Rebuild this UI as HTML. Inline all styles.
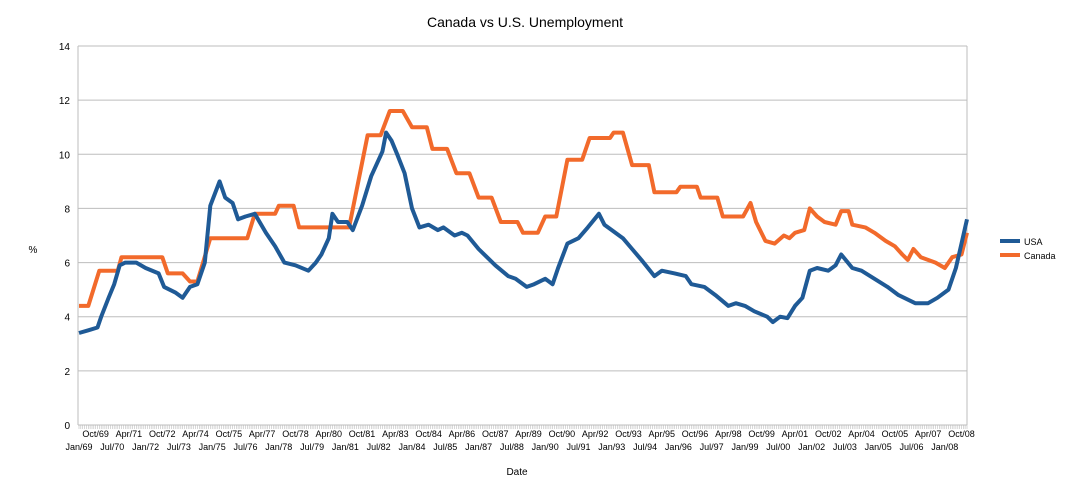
<!DOCTYPE html>
<html><head><meta charset="utf-8"><style>
body{margin:0;background:#fff;}
svg{display:block;font-family:"Liberation Sans",sans-serif;}
</style></head><body>
<svg id="chart" width="1071" height="501" viewBox="0 0 1071 501">
<text x="525" y="27" font-size="14" text-anchor="middle" fill="#000">Canada vs U.S. Unemployment</text>
<text x="33" y="253" font-size="10" text-anchor="middle" fill="#000">%</text>
<text x="517" y="475" font-size="10" text-anchor="middle" fill="#000">Date</text>
<g id="grid"></g>
<g id="yticks"></g>
<g id="xticks"></g>
<g id="series"></g>
<g>
<rect x="1000" y="239" width="20" height="4" fill="#1f5a96"/>
<text x="1024" y="245" font-size="9">USA</text>
<rect x="1000" y="253" width="20" height="4" fill="#f26a2b"/>
<text x="1024" y="259" font-size="9">Canada</text>
</g>
</svg>
<script>
const yTicks=[0,2,4,6,8,10,12,14];
const monthNames=["Jan","Feb","Mar","Apr","May","Jun","Jul","Aug","Sep","Oct","Nov","Dec"];
const usaMonths=[0,5,10,12,16,19,22,25,31,36,43,46,52,56,60,64,68,71,76,79,83,86,90,95,101,106,111,117,124,128,131,135,137,140,145,148,153,158,164,166,169,172,176,180,184,189,194,197,203,207,210,216,225,232,236,242,246,252,256,259,264,270,275,281,284,288,294,299,304,311,315,322,328,331,338,344,351,355,360,365,372,375,379,383,387,391,395,399,405,409,412,418,423,430,437,443,452,459,464,470,474,477,480];
const usaValues=[3.4,3.5,3.6,4.0,4.7,5.2,5.9,6.0,6.0,5.8,5.6,5.1,4.9,4.7,5.1,5.2,6.0,8.1,9.0,8.4,8.2,7.6,7.7,7.8,7.1,6.6,6.0,5.9,5.7,6.0,6.3,6.9,7.8,7.5,7.5,7.2,8.1,9.2,10.1,10.8,10.5,10.0,9.3,8.0,7.3,7.4,7.2,7.3,7.0,7.1,7.0,6.5,5.9,5.5,5.4,5.1,5.2,5.4,5.2,5.8,6.7,6.9,7.3,7.8,7.4,7.2,6.9,6.5,6.1,5.5,5.7,5.6,5.5,5.2,5.1,4.8,4.4,4.5,4.4,4.2,4.0,3.8,4.0,3.95,4.4,4.7,5.7,5.8,5.7,5.9,6.3,5.8,5.7,5.4,5.1,4.8,4.5,4.5,4.7,5.0,5.8,6.7,7.6];
const canMonths=[0,5,11,21,23,45,48,56,60,64,71,91,95,106,108,116,119,146,156,163,168,175,180,188,191,199,204,211,216,223,228,237,240,248,252,258,264,272,276,287,289,294,299,308,311,323,325,334,336,345,348,359,363,366,371,376,381,384,387,392,395,399,403,409,412,416,418,425,430,436,441,445,448,451,455,463,468,472,477,480];
const canValues=[4.4,4.4,5.7,5.7,6.2,6.2,5.6,5.6,5.3,5.3,6.9,6.9,7.8,7.8,8.1,8.1,7.3,7.3,10.7,10.7,11.6,11.6,11.0,11.0,10.2,10.2,9.3,9.3,8.4,8.4,7.5,7.5,7.1,7.1,7.7,7.7,9.8,9.8,10.6,10.6,10.8,10.8,9.6,9.6,8.6,8.6,8.8,8.8,8.4,8.4,7.7,7.7,8.2,7.5,6.8,6.7,7.0,6.9,7.1,7.2,8.0,7.7,7.5,7.4,7.9,7.9,7.4,7.3,7.1,6.8,6.6,6.3,6.1,6.5,6.2,6.0,5.8,6.2,6.3,7.1];
const NS="http://www.w3.org/2000/svg";
const X0=79,X1=967,Y0=425,Y14=46,MMAX=480;
function xs(m){return X0+(X1-X0)*m/MMAX;}
function ys(v){return Y0-(Y0-Y14)*v/14;}
function mk(tag,attrs,parent){const e=document.createElementNS(NS,tag);for(const k in attrs)e.setAttribute(k,attrs[k]);parent.appendChild(e);return e;}
const grid=document.getElementById('grid'),yt=document.getElementById('yticks'),xt=document.getElementById('xticks'),ser=document.getElementById('series');
yTicks.forEach(v=>{
 const l=mk('line',{x1:78,x2:X1,y1:ys(v),y2:ys(v),stroke:'#bdbdbd','stroke-width':1},grid);
 
 
 const t=mk('text',{x:70,y:ys(v)+4,'font-size':10,'text-anchor':'end'},yt);
 t.textContent=v;
 
 
});
const ax=mk('line',{x1:78,x2:78,y1:Y14,y2:Y0,stroke:'#bdbdbd'},grid);


const rx=mk('line',{x1:X1,x2:X1,y1:Y14,y2:Y0,stroke:'#bdbdbd'},grid);


let d='';
for(let m=0;m<=MMAX;m++){const x=xs(m).toFixed(1);d+='M'+x+' '+Y0+'V'+(Y0+4);}
const tk=mk('path',{d:d,stroke:'#bdbdbd','stroke-width':0.6},xt);


for(let m=0;m<=477;m+=9){
 const yr=(69+Math.floor(m/12))%100;
 const lab=monthNames[m%12]+'/'+String(yr).padStart(2,'0');
 const row=(m/9)%2===0?450:437;
 const t=mk('text',{x:xs(m),y:row,'font-size':9,'text-anchor':'middle'},xt);
 t.textContent=lab;
 
 
}
function line(ms,vs,color,name){
 const p=ms.map((m,i)=>(i?'L':'M')+xs(m).toFixed(1)+' '+ys(vs[i]).toFixed(1)).join('');
 const e=mk('path',{d:p,fill:'none',stroke:color,'stroke-width':4,'stroke-linejoin':'round'},ser);
 
 
}
line(canMonths,canValues,'#f26a2b','canada-line');
line(usaMonths,usaValues,'#1f5a96','usa-line');
</script>
</body></html>
